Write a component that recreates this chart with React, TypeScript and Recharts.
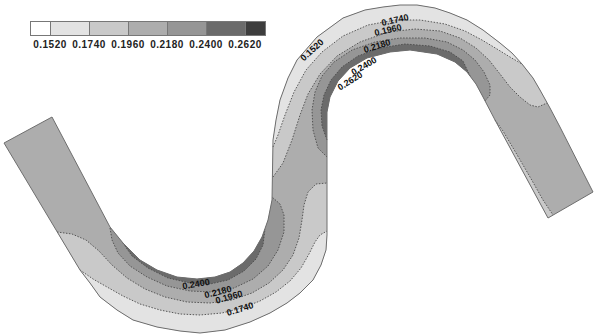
import { Legend, Scatter, ScatterChart, XAxis, YAxis } from "recharts"

type Pt = { x: number; y: number }
const p = (x: number, y: number): Pt => ({ x, y })

// legend levels and band shades (lowest -> highest)
const levels = ["0.1520", "0.1740", "0.1960", "0.2180", "0.2400", "0.2620"]
const bandColors = ["#ffffff", "#e3e3e3", "#c9c9c9", "#adadad", "#969696", "#6b6b6b", "#3d3d3d"]

// channel walls
const inletEdge = [p(4, 143), p(52, 117)]
const bottomInner = [
  p(110, 227), p(123, 243), p(140, 260), p(157, 270), p(177, 277), p(197, 279), p(215, 277),
  p(230, 272), p(243, 263), p(254, 251), p(262, 237), p(268, 220), p(272, 200),
]
const bottomOuter = [
  p(80, 270), p(90, 283), p(100, 297), p(117, 310), p(133, 320), p(157, 327), p(180, 331),
  p(200, 333), p(225, 330), p(250, 322), p(270, 313), p(287, 303), p(300, 293), p(313, 280),
  p(321, 265), p(326, 250), p(327, 235),
]
const topOuter = [
  p(273, 140), p(276, 120), p(280, 100), p(288, 78), p(297, 60), p(317, 37), p(343, 18),
  p(365, 10), p(383, 7), p(400, 5), p(417, 5), p(435, 8), p(450, 13), p(467, 20), p(483, 30),
  p(500, 43), p(512, 53), p(522, 64), p(533, 78), p(540, 90), p(550, 108), p(560, 127),
]
const topInner = [
  p(327, 140), p(327, 112), p(330, 97), p(338, 81), p(350, 68), p(367, 58), p(390, 52),
  p(410, 50), p(437, 54), p(455, 62), p(467, 72), p(476, 84), p(483, 97), p(495, 120),
]
const outletEdge = [p(593, 192), p(548, 218)]

// contour lines
const c174Bottom = [
  p(80, 270), p(93, 279), p(107, 287), p(123, 296), p(140, 304), p(160, 310), p(180, 314),
  p(200, 315), p(222, 313), p(242, 308), p(260, 301), p(276, 292), p(290, 281), p(301, 268),
  p(309, 254), p(315, 242), p(320, 235), p(327, 231),
]
const c196Bottom = [
  p(57, 232), p(72, 234), p(86, 240), p(99, 251), p(112, 265), p(127, 278), p(145, 289),
  p(165, 297), p(187, 302), p(210, 303), p(232, 300), p(252, 293), p(269, 283), p(283, 270),
  p(293, 255), p(299, 238), p(302, 220), p(304, 205), p(308, 192), p(316, 184), p(327, 183),
]
const c218Bottom = [
  p(110, 228), p(112, 240), p(118, 253), p(130, 266), p(147, 277), p(167, 286), p(190, 291),
  p(212, 292), p(234, 288), p(253, 279), p(268, 266), p(278, 250), p(284, 232), p(284, 215),
  p(280, 204), p(272, 197),
]
const c240Bottom = [
  p(123, 243), p(132, 256), p(148, 268), p(168, 278), p(190, 283), p(210, 284), p(228, 280),
  p(244, 271), p(256, 259), p(263, 245), p(265, 229),
]
const c174Top = [
  p(273, 147), p(278, 135), p(285, 115), p(294, 92), p(306, 70), p(322, 52), p(343, 36),
  p(368, 25), p(395, 20), p(420, 20), p(445, 24), p(465, 31), p(482, 40), p(497, 49),
  p(510, 57), p(522, 64),
]
const c196Top = [
  p(273, 177), p(283, 163), p(292, 140), p(300, 115), p(308, 94), p(320, 74), p(337, 56),
  p(360, 42), p(388, 32), p(415, 29), p(440, 31), p(460, 38), p(476, 48), p(489, 60),
  p(500, 74), p(510, 87), p(520, 97), p(530, 105), p(538, 107), p(547, 103),
]
const c218Top = [
  p(327, 157), p(318, 148), p(313, 130), p(312, 110), p(315, 92), p(322, 76), p(334, 62),
  p(352, 50), p(375, 42), p(400, 38), p(425, 38), p(447, 42), p(463, 50), p(475, 60),
  p(484, 72), p(490, 85), p(490, 95), p(485, 101),
]
const c240Top = [
  p(327, 140), p(322, 126), p(321, 110), p(324, 95), p(331, 80), p(342, 67), p(358, 56),
  p(380, 48), p(405, 44), p(430, 46), p(450, 52), p(463, 61), p(470, 76),
]
const c196Arm = [p(495, 120), p(503, 131), p(516, 153), p(530, 177), p(543, 200), p(553, 215)]

// contour labels
const labelText = [
  "0.2400", "0.2180", "0.1960", "0.1740",
  "0.1520", "0.1740", "0.1960", "0.2180", "0.2400", "0.2620",
]
const labelX = [196, 218, 229, 240, 312, 395, 388, 377, 364, 350]
const labelY = [284, 292, 297, 309, 50, 20, 30, 46, 66, 81]
const labelTilt = [-10, -14, -16, -17, -42, -13, -13, -17, -30, -32]

const rev = (a: Pt[]) => [...a].reverse()

const outline = [
  ...inletEdge, ...bottomInner, ...topOuter, ...outletEdge,
  ...rev(topInner), ...rev(bottomOuter), inletEdge[0],
]

const regions: { pts: Pt[]; color: string }[] = [
  { pts: outline, color: bandColors[3] },
  { pts: [...c196Bottom, ...rev(bottomOuter)], color: bandColors[2] },
  { pts: [...c174Bottom, ...rev(bottomOuter)], color: bandColors[1] },
  { pts: [...c196Top, ...rev(topOuter.slice(0, 20))], color: bandColors[2] },
  { pts: [...c174Top, ...rev(topOuter.slice(0, 18))], color: bandColors[1] },
  { pts: [...c196Arm, outletEdge[1]], color: bandColors[2] },
  { pts: [...c218Bottom, ...rev(bottomInner)], color: bandColors[4] },
  { pts: [...c240Bottom, ...rev(bottomInner.slice(1, 11))], color: bandColors[5] },
  { pts: [...c218Top, ...rev(topInner.slice(0, 13))], color: bandColors[4] },
  { pts: [...c240Top, ...rev(topInner.slice(0, 11))], color: bandColors[5] },
]

const contours = [c174Bottom, c196Bottom, c218Bottom, c240Bottom, c174Top, c196Top, c218Top, c240Top, c196Arm]

const labels = labelText.map((text, i) => ({ x: labelX[i], y: labelY[i], text, tilt: labelTilt[i] }))

const font = "'Liberation Sans', Arial, sans-serif"
const cellLeft = [0, 20, 59, 98, 137, 176, 215, 235]

const LegendBar = () => (
  <div style={{ position: "relative", width: 240, height: 32, fontFamily: font }}>
    {bandColors.map((c, i) => (
      <div
        key={i}
        style={{
          position: "absolute",
          left: cellLeft[i],
          top: 0,
          width: cellLeft[i + 1] - cellLeft[i] + 1,
          height: 15,
          boxSizing: "border-box",
          border: "1px solid #777",
          background: c,
        }}
      />
    ))}
    {levels.map((l, i) => (
      <span
        key={l}
        style={{
          position: "absolute",
          left: cellLeft[i + 1],
          top: 19,
          transform: "translateX(-50%)",
          fontSize: 10,
          lineHeight: "10px",
          fontWeight: 700,
          letterSpacing: 0.5,
          color: "#222",
          whiteSpace: "nowrap",
        }}
      >
        {l}
      </span>
    ))}
  </div>
)

const noDot = () => <g />

const LabelText = (props: any) => {
  const { cx, cy, payload } = props
  return (
    <text
      x={cx}
      y={cy}
      transform={`rotate(${payload.tilt} ${cx} ${cy})`}
      textAnchor="middle"
      dominantBaseline="central"
      fontFamily={font}
      fontSize={9}
      fontWeight={700}
      fill="#111"
      stroke="none"
    >
      {payload.text}
    </text>
  )
}

export default function App() {
  return (
    <div style={{ position: "absolute", left: 0, top: 0, background: "#fff" }}>
      <ScatterChart width={594} height={335} margin={{ top: 0, right: 0, bottom: 0, left: 0 }}>
        <XAxis type="number" dataKey="x" domain={[0, 594]} allowDataOverflow hide />
        <YAxis type="number" dataKey="y" domain={[0, 335]} allowDataOverflow reversed hide />
        <Legend
          layout="horizontal"
          verticalAlign="middle"
          align="center"
          wrapperStyle={{ top: 21, left: 30, width: 240, height: 32 }}
          content={() => <LegendBar />}
        />
        {regions.map((r, i) => (
          <Scatter
            key={`r${i}`}
            data={r.pts}
            shape={noDot}
            line={{ fill: r.color, stroke: "none" }}
            lineType="joint"
            isAnimationActive={false}
          />
        ))}
        {contours.map((c, i) => (
          <Scatter
            key={`c${i}`}
            data={c}
            shape={noDot}
            line={{ fill: "none", stroke: "#4a4a4a", strokeWidth: 0.9, strokeDasharray: "1.5 1.5" }}
            lineType="joint"
            isAnimationActive={false}
          />
        ))}
        <Scatter
          data={outline}
          shape={noDot}
          line={{ fill: "none", stroke: "#6e6e6e", strokeWidth: 1 }}
          lineType="joint"
          isAnimationActive={false}
        />
        <Scatter data={labels} shape={LabelText} fill="#111" isAnimationActive={false} />
      </ScatterChart>
    </div>
  )
}
